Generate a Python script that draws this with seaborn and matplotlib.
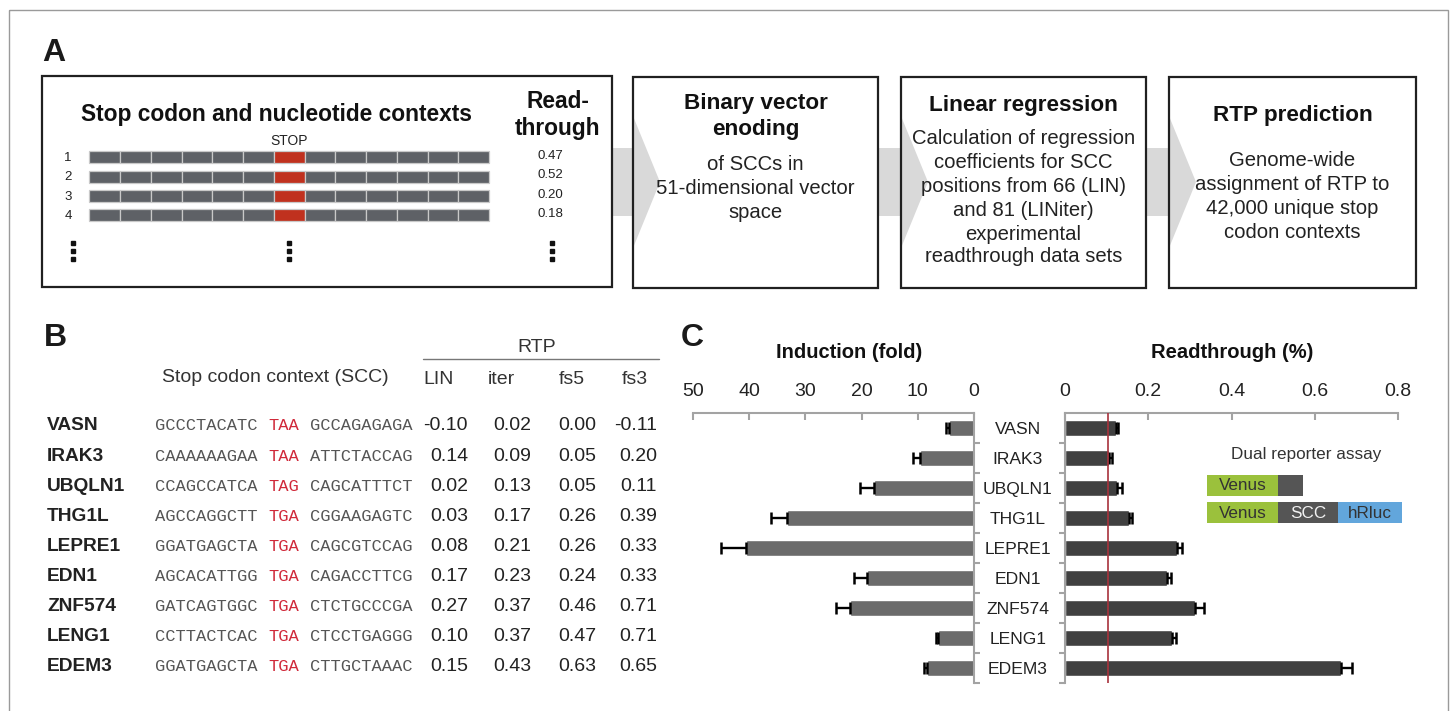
import numpy as np
import pandas as pd
import matplotlib
matplotlib.use("Agg")
import matplotlib.pyplot as plt
from matplotlib.patches import Rectangle, Polygon
from matplotlib.ticker import FixedLocator
import seaborn as sns

# ---------------- data ----------------
context_rows = ["1", "2", "3", "4"]
context_readthrough = [0.47, 0.52, 0.20, 0.18]
n_positions = 13
stop_position = 6

genes = ["VASN", "IRAK3", "UBQLN1", "THG1L", "LEPRE1", "EDN1", "ZNF574", "LENG1", "EDEM3"]
upstream = ["GCCCTACATC", "CAAAAAAGAA", "CCAGCCATCA", "AGCCAGGCTT", "GGATGAGCTA",
            "AGCACATTGG", "GATCAGTGGC", "CCTTACTCAC", "GGATGAGCTA"]
stop_codons = ["TAA", "TAA", "TAG", "TGA", "TGA", "TGA", "TGA", "TGA", "TGA"]
downstream = ["GCCAGAGAGA", "ATTCTACCAG", "CAGCATTTCT", "CGGAAGAGTC", "CAGCGTCCAG",
              "CAGACCTTCG", "CTCTGCCCGA", "CTCCTGAGGG", "CTTGCTAAAC"]
rtp_lin = [-0.10, 0.14, 0.02, 0.03, 0.08, 0.17, 0.27, 0.10, 0.15]
rtp_iter = [0.02, 0.09, 0.13, 0.17, 0.21, 0.23, 0.37, 0.37, 0.43]
rtp_fs5 = [0.00, 0.05, 0.05, 0.26, 0.26, 0.24, 0.46, 0.47, 0.63]
rtp_fs3 = [-0.11, 0.20, 0.11, 0.39, 0.33, 0.33, 0.71, 0.71, 0.65]
rtp_columns = ["LIN", "iter", "fs5", "fs3"]

induction = [4.4, 9.6, 17.8, 33.3, 40.5, 19.0, 22.1, 6.4, 8.4]
induction_err = [0.5, 1.3, 2.5, 2.9, 4.6, 2.4, 2.4, 0.3, 0.5]
readthrough = [0.122, 0.106, 0.126, 0.154, 0.270, 0.246, 0.313, 0.257, 0.662]
readthrough_err = [0.006, 0.006, 0.010, 0.006, 0.012, 0.008, 0.021, 0.009, 0.028]
readthrough_background = 0.104
induction_ticks = [50, 40, 30, 20, 10, 0]
readthrough_ticks = [0, 0.2, 0.4, 0.6, 0.8]
readthrough_ticklabels = ["0", "0.2", "0.4", "0.6", "0.8"]

flow_titles = ["Binary vector\nenoding", "Linear regression", "RTP prediction"]
flow_bodies = [["of SCCs in", "51-dimensional vector", "space"],
               ["Calculation of regression", "coefficients for SCC",
                "positions from 66 (LIN)", "and 81 (LINiter)",
                "experimental", "readthrough data sets"],
               ["Genome-wide", "assignment of RTP to", "42,000 unique stop",
                "codon contexts"]]

# ---------------- style ----------------
sns.set_theme(style="white")
plt.rcParams["font.family"] = ["Liberation Sans", "DejaVu Sans"]
SANS = "Liberation Sans"
MONO = "Liberation Mono"

W, H = 1450, 711
fig = plt.figure(figsize=(W / 100, H / 100), dpi=100)
fig.patch.set_facecolor("white")

ov = fig.add_axes([0, 0, 1, 1], zorder=0)
ov.set_xlim(0, W)
ov.set_ylim(H, 0)
ov.axis("off")

# outer frame
ov.add_patch(Rectangle((9, 10), 1439, 720, fill=False, ec="#9a9a9a", lw=1.0, zorder=1))

# panel letters
for lab, x, y in [("A", 42, 53), ("B", 44, 338), ("C", 681, 338)]:
    ov.text(x, y, lab, fontsize=23, fontweight="bold", ha="left", va="center",
            color="#1a1a1a", family=SANS)

# ---------------- Panel A ----------------
boxes = [(42, 76, 570, 211), (633, 77, 245, 211), (901, 77, 245, 211), (1169, 77, 247, 211)]
for (x, y, w, h) in boxes:
    ov.add_patch(Rectangle((x, y), w, h, fc="white", ec="none", zorder=1))
arrow_c = "#d9d9d9"
for i in range(3):
    r = boxes[i][0] + boxes[i][2]
    l = boxes[i + 1][0]
    ov.add_patch(Polygon([(r, 148), (l, 148), (l, 216), (r, 216)], closed=True,
                         fc=arrow_c, ec="none", zorder=1.5))
    ov.add_patch(Polygon([(l, 116), (l + 27, 182), (l, 248)], closed=True,
                         fc=arrow_c, ec="none", zorder=2))
for (x, y, w, h) in boxes:
    ov.add_patch(Rectangle((x, y), w, h, fill=False, ec="#202020", lw=1.6, zorder=3))

ov.text(276, 115, "Stop codon and nucleotide contexts", fontsize=16.4, fontweight="bold",
        ha="center", va="center", color="#111", family=SANS, zorder=4)
ov.text(558, 101, "Read-", fontsize=16.4, fontweight="bold", ha="center", va="center",
        color="#111", family=SANS, zorder=4)
ov.text(558, 128, "through", fontsize=16.4, fontweight="bold", ha="center", va="center",
        color="#111", family=SANS, zorder=4)

seg_x0, seg_x1 = 89.5, 489.0
seg_w = (seg_x1 - seg_x0) / n_positions
row_y0, row_dy, bar_h = 157.3, 19.2, 12
ov.text(seg_x0 + seg_w * (stop_position + 0.5), 141, "STOP", fontsize=10, ha="center",
        va="center", color="#222", family=SANS, zorder=4)
for i, (lab, val) in enumerate(zip(context_rows, context_readthrough)):
    yc = row_y0 + i * row_dy
    ov.text(68, yc + 1, lab, fontsize=9.5, ha="center", va="center", color="#222",
            family=SANS, zorder=4)
    for k in range(n_positions):
        col = "#c0311e" if k == stop_position else "#5e6166"
        ov.add_patch(Rectangle((seg_x0 + k * seg_w, yc - bar_h / 2), seg_w, bar_h,
                               fc=col, ec="#c9c9c9", lw=0.9, zorder=4))
    ov.text(550, yc - 1, f"{val:.2f}", fontsize=9.5, ha="center", va="center",
            color="#222", family=SANS, zorder=4)
for x in [73, 289, 552]:
    ov.plot([x] * 3, [243, 251, 259], "s", ms=2.8, color="#111", zorder=4)

# flow boxes text
title_y = [[103, 130], [105], [115]]
body_y = [[165, 189, 213], [138, 162, 186, 210, 234, 257], [161, 185, 209, 232]]
for i in range(3):
    xc = boxes[i + 1][0] + boxes[i + 1][2] / 2
    for t, y in zip(flow_titles[i].split("\n"), title_y[i]):
        ov.text(xc, y, t, fontsize=16.2, fontweight="bold", ha="center", va="center",
                color="#111", family=SANS, zorder=4)
    for t, y in zip(flow_bodies[i], body_y[i]):
        ov.text(xc, y, t, fontsize=14.6, ha="center", va="center", color="#222",
                family=SANS, zorder=4)

# ---------------- Panel B ----------------
ov.text(275, 377, "Stop codon context (SCC)", fontsize=14, ha="center", va="center",
        color="#333", family=SANS)
ov.text(537, 347, "RTP", fontsize=14, ha="center", va="center", color="#333", family=SANS)
ov.plot([423, 659], [359, 359], color="#777", lw=1.0)
for name, xc in zip(rtp_columns, [439, 501, 572, 635]):
    ov.text(xc, 379, name, fontsize=14, ha="center", va="center", color="#333", family=SANS)

row_ys = [426 + 30.1 * i for i in range(len(genes))]
val_right = [468, 531, 596, 657]
for i, y in enumerate(row_ys):
    ov.text(47, y, genes[i], fontsize=13.8, fontweight="bold", ha="left", va="center",
            color="#222", family=SANS)
    ov.text(155, y, upstream[i], fontsize=12.3, ha="left", va="center", color="#555",
            family=MONO)
    ov.text(268, y, stop_codons[i], fontsize=12.3, ha="left", va="center",
            color="#d0293a", family=MONO)
    ov.text(310, y, downstream[i], fontsize=12.3, ha="left", va="center", color="#555",
            family=MONO)
    for vals, xr in zip([rtp_lin, rtp_iter, rtp_fs5, rtp_fs3], val_right):
        ov.text(xr, y, f"{vals[i]:.2f}", fontsize=14, ha="right", va="center",
                color="#222", family=SANS)

# ---------------- Panel C ----------------
spine_c = "#a3a3a3"
ax_top, ax_bot = 413, 683
ind_ax = fig.add_axes([693 / W, (H - ax_bot) / H, 281 / W, (ax_bot - ax_top) / H], zorder=2)
rt_ax = fig.add_axes([1065 / W, (H - ax_bot) / H, 333 / W, (ax_bot - ax_top) / H], zorder=2)

df = pd.DataFrame({"gene": genes, "induction": induction, "ind_err": induction_err,
                   "readthrough": readthrough, "rt_err": readthrough_err})
pos = np.arange(len(genes))

sns.barplot(data=df, x="induction", y="gene", orient="h", color="#6b6b6b",
            saturation=1, width=0.52, ax=ind_ax, errorbar=None)
ind_ax.errorbar(df["induction"], pos, xerr=[np.zeros(len(pos)), df["ind_err"]],
                fmt="none", ecolor="black", elinewidth=1.7, capsize=4.5, capthick=1.8)
sns.barplot(data=df, x="readthrough", y="gene", orient="h", color="#404040",
            saturation=1, width=0.52, ax=rt_ax, errorbar=None)
rt_ax.errorbar(df["readthrough"], pos, xerr=[np.zeros(len(pos)), df["rt_err"]],
               fmt="none", ecolor="black", elinewidth=1.7, capsize=4.5, capthick=1.8)
rt_ax.axvline(readthrough_background, color="#a8323c", lw=1.2, zorder=5)

for ax in (ind_ax, rt_ax):
    ax.set_facecolor("none")
    ax.set_xlabel("")
    ax.set_ylabel("")
    ax.set_ylim(len(genes) - 0.5, -0.5)
    ax.xaxis.tick_top()
    ax.tick_params(axis="x", direction="in", length=5, width=1.5, color=spine_c,
                   pad=9, labelsize=14, labelcolor="#222")
    ax.yaxis.set_minor_locator(FixedLocator(np.arange(0.5, len(genes), 1.0)))
    for lab in ax.get_xticklabels():
        lab.set_family(SANS)

ind_ax.set_xlim(50, 0)
ind_ax.set_xticks(induction_ticks)
ind_ax.set_xticklabels([str(t) for t in induction_ticks])
for s in ["left", "bottom"]:
    ind_ax.spines[s].set_visible(False)
for s in ["top", "right"]:
    ind_ax.spines[s].set_color(spine_c)
    ind_ax.spines[s].set_linewidth(1.5)
ind_ax.yaxis.tick_right()
ind_ax.set_yticks(pos)
ind_ax.set_yticklabels(genes)
ind_ax.tick_params(axis="y", which="major", length=0, pad=31.5, labelsize=12.6,
                   labelcolor="#222")
ind_ax.tick_params(axis="y", which="minor", direction="out", length=4.5, width=1.5,
                   color=spine_c, right=True, left=False)
for lab in ind_ax.get_yticklabels():
    lab.set_horizontalalignment("center")
    lab.set_family(SANS)

rt_ax.set_xlim(0, 0.8)
rt_ax.set_xticks(readthrough_ticks)
rt_ax.set_xticklabels(readthrough_ticklabels)
for s in ["right", "bottom"]:
    rt_ax.spines[s].set_visible(False)
for s in ["top", "left"]:
    rt_ax.spines[s].set_color(spine_c)
    rt_ax.spines[s].set_linewidth(1.5)
rt_ax.set_yticks(pos)
rt_ax.set_yticklabels([])
rt_ax.tick_params(axis="y", which="major", length=0)
rt_ax.tick_params(axis="y", which="minor", direction="out", length=4.5, width=1.5,
                  color=spine_c, left=True, right=False)

ov.text(849, 353, "Induction (fold)", fontsize=14.5, fontweight="bold", ha="center",
        va="center", color="#111", family=SANS)
ov.text(1232, 353, "Readthrough (%)", fontsize=14.5, fontweight="bold", ha="center",
        va="center", color="#111", family=SANS)

# dual reporter legend
ov.text(1306, 455, "Dual reporter assay", fontsize=12.3, ha="center", va="center",
        color="#333", family=SANS, zorder=5)
legend_rows = [[("Venus", 1207, 1278, "#9bc13c", "#333"), ("", 1278, 1303, "#555555", "#fff")],
               [("Venus", 1207, 1278, "#9bc13c", "#333"), ("SCC", 1278, 1338, "#555555", "#f2f2f2"),
                ("hRluc", 1338, 1402, "#62a6dc", "#333")]]
for (y0, y1), row in zip([(475, 496), (502, 523)], legend_rows):
    for (t, x0, x1, fc, tc) in row:
        ov.add_patch(Rectangle((x0, y0), x1 - x0, y1 - y0, fc=fc, ec="none", zorder=5))
        if t:
            ov.text((x0 + x1) / 2, (y0 + y1) / 2 + 0.5, t, fontsize=12.3, ha="center",
                    va="center", color=tc, family=SANS, zorder=6)

fig.savefig("out.png", dpi=100, facecolor="white")
